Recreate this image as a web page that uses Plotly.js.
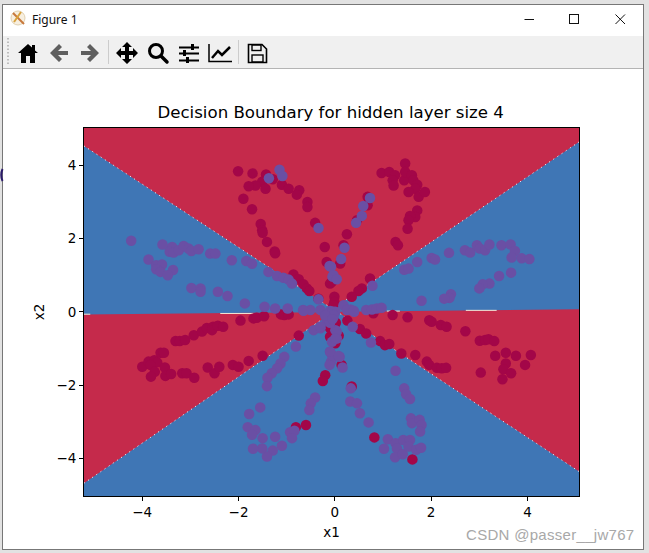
<!DOCTYPE html>
<html>
<head>
<meta charset="utf-8">
<script src="https://cdn.plot.ly/plotly-3.0.1.min.js"></script>
<style>
html,body{margin:0;padding:0;background:#fff;width:649px;height:553px;overflow:hidden;}
#shadow{position:absolute;left:0;top:0;width:649px;height:553px;background:#e2e2e2;}
#win{position:absolute;left:2px;top:4px;width:640px;height:544px;background:#fff;border:1px solid #777;}
#tb{position:absolute;left:3px;top:36px;width:640px;height:32px;background:#f0f0f0;border-bottom:1px solid #b4b4b4;}
#ttl{position:absolute;left:32px;top:11px;font:12px "Noto Sans",sans-serif;color:#111;}
#plot{position:absolute;left:0;top:0;width:649px;height:553px;}
#wm{position:absolute;left:466px;top:526px;font:15px "Liberation Sans",sans-serif;color:#a8a8a8;letter-spacing:.3px;white-space:nowrap;}
svg.i{position:absolute;overflow:visible;}
</style>
</head>
<body>
<div id="shadow"></div>
<div id="win"></div>
<div id="tb"></div>
<div id="ttl">Figure 1</div>
<svg class="i" style="left:0;top:0" width="649" height="70">
  <!-- app icon -->
  <circle cx="18" cy="18" r="7" fill="#f7efe0" stroke="#e0d0b0"/>
  <path d="M13 13 L24 24" stroke="#c8783c" stroke-width="2"/>
  <path d="M21 12 L14 22" stroke="#d9a23c" stroke-width="2"/>
  <!-- window buttons -->
  <path d="M524.5 19.5 H534" stroke="#111" stroke-width="1"/>
  <rect x="569.5" y="14.5" width="9" height="9" fill="none" stroke="#111" stroke-width="1"/>
  <path d="M615.5 14.5 L625 24 M625 14.5 L615.5 24" stroke="#111" stroke-width="1"/>
  <!-- grip -->
  <path d="M8 38 V66" stroke="#aaa" stroke-width="1.5" stroke-dasharray="1.5,2"/>
  <!-- home -->
  <path d="M28 44 L32 47.5 V45 H35 V50.5 L38 53 H35 V63 H30 V56 H26 V63 H21 V53 H18 Z" fill="#000"/>
  <!-- back -->
  <path d="M59 44 L50 53 L59 62 L62 59 L58 55 H68 V51 H58 L62 47 Z" fill="#5f5f5f"/>
  <!-- forward -->
  <path d="M90 44 L99 53 L90 62 L87 59 L91 55 H81 V51 H91 L87 47 Z" fill="#5f5f5f"/>
  <path d="M108.5 40 V64" stroke="#ccc"/>
  <!-- move -->
  <path d="M127 42 L132 47 H129 V51 H133 V48 L138 53 L133 58 V55 H129 V59 H132 L127 64 L122 59 H125 V55 H121 V58 L116 53 L121 48 V51 H125 V47 H122 Z" fill="#000"/>
  <!-- zoom -->
  <circle cx="156" cy="51" r="6.5" fill="none" stroke="#000" stroke-width="3"/>
  <path d="M161 56 L167 62" stroke="#000" stroke-width="3.5" stroke-linecap="round"/>
  <!-- sliders -->
  <path d="M179 47.5 H199 M179 53.5 H199 M179 60.5 H199" stroke="#000" stroke-width="2"/>
  <rect x="191" y="44" width="3" height="6" fill="#000"/><rect x="183" y="50" width="3" height="6" fill="#000"/><rect x="186" y="57" width="3" height="6" fill="#000"/>
  <!-- chart -->
  <path d="M209 44 V61.5 H232" stroke="#000" stroke-width="1.5" fill="none"/>
  <path d="M212 58 L218 51 L222 55 L230 47" stroke="#000" stroke-width="2.5" fill="none"/>
  <path d="M238.5 40 V64" stroke="#ccc"/>
  <!-- save -->
  <path d="M248.5 44.5 H262 L266.5 49 V62.5 H248.5 Z" fill="none" stroke="#000" stroke-width="1.6"/>
  <rect x="252" y="45" width="9" height="5.5" fill="none" stroke="#000" stroke-width="1.4"/>
  <rect x="252" y="55" width="11" height="7" fill="none" stroke="#000" stroke-width="1.4"/>
  <!-- clipped glyph at window edge -->
  <path d="M2.5 169 Q0 175 2.5 181" stroke="#2a1a6a" stroke-width="2" fill="none"/>
</svg>
<div id="plot"></div>
<div id="wm">CSDN @passer__jw767</div>
<script>
// Red class samples
const redX = [-2.01,-1.71,-1.43,-1.29,-1.51,-1.65,-1.79,-1.44,-1.10,-0.96,-0.74,-0.79,-1.90,-1.72,-0.57,-0.57,-1.54,-1.51,-1.50,-1.41,-1.25,-1.24,-0.41,-0.21,-0.17,-0.06,-0.86,-0.75,-0.65,-0.58,-0.53,-0.34,
1.46,0.97,1.13,1.25,1.20,1.22,1.44,1.46,1.60,1.63,1.71,1.67,1.53,1.74,1.87,1.71,1.67,1.56,1.53,1.51,1.26,1.31,0.68,0.68,0.46,0.25,0.18,0.11,0.73,0.56,0.49,0.35,-0.01,-0.01,
-4.00,-3.87,-3.75,-3.69,-3.83,-3.74,-3.82,-3.53,-3.52,-3.40,-3.17,-3.08,-2.92,-3.62,-3.55,-3.31,-3.22,-3.11,-2.93,-2.76,-2.66,-2.53,-2.55,-2.43,-2.32,-1.96,-1.69,-1.62,-1.47,-1.12,-1.05,-0.96,-2.64,-2.50,-2.40,-2.12,-2.00,-1.79,-1.50,-0.75,-0.20,-0.25,-0.81,-0.60,
1.20,1.51,0.80,0.26,0.52,0.65,0.94,1.04,1.13,1.38,1.67,1.91,1.96,2.12,2.22,2.31,1.96,2.01,2.20,2.32,2.71,3.01,3.12,3.19,3.31,3.33,3.55,3.76,4.07,3.95,3.55,3.50,3.66,3.48,3.03,0.35,0.14,0.01,0.82,1.61,
-0.10,-0.03,-0.10,-0.10,0.08,0.02];
const redY = [3.84,3.78,3.75,3.62,3.55,3.45,3.43,3.36,3.47,3.36,3.32,3.20,3.09,2.80,3.00,2.86,2.40,2.23,2.16,1.91,1.65,1.60,2.43,1.77,1.36,0.82,1.02,0.89,0.75,0.64,0.57,0.36,
4.05,3.79,3.82,3.73,3.59,3.45,3.59,3.82,3.73,3.59,3.47,3.36,3.27,3.14,3.27,2.77,2.59,2.62,2.50,2.27,1.91,1.82,3.14,2.91,2.50,2.12,1.82,1.32,0.91,0.64,0.57,0.41,0.41,0.27,
-1.50,-1.36,-1.32,-1.38,-1.45,-1.64,-1.77,-1.52,-1.75,-1.70,-1.68,-1.68,-1.80,-1.12,-1.12,-0.80,-0.80,-0.77,-0.64,-0.54,-0.44,-0.41,-0.50,-0.38,-0.41,-0.24,-0.18,-0.16,-0.12,-0.07,-0.09,-0.07,-1.52,-1.68,-1.50,-1.45,-1.50,-1.34,-1.20,-0.65,-1.73,-1.89,-3.15,-3.09,
-0.09,-0.15,-0.04,-0.24,-0.47,-0.59,-0.80,-0.91,-0.88,-1.14,-1.18,-1.36,-1.45,-1.53,-1.54,-1.53,-0.23,-0.27,-0.36,-0.41,-0.53,-0.79,-0.77,-0.75,-0.80,-1.20,-1.12,-1.20,-1.18,-1.45,-1.41,-1.57,-1.68,-1.84,-1.66,-2.04,-1.45,-0.86,-3.43,-4.03,
0.77,0.18,-0.68,-0.45,-0.65,-0.30];

// Blue class samples
const blueX = [-1.37,-1.15,-1.09,-0.34,-0.11,-0.05,-0.34,-4.23,-3.58,-3.38,-3.43,-3.35,-3.24,-3.14,-3.04,-2.98,-2.83,-2.59,-2.48,-2.14,-1.84,-1.72,-1.38,-1.20,-1.07,-0.96,-0.89,-3.87,-3.71,-3.59,-3.71,-3.62,-3.36,-3.47,-2.98,-2.79,-2.79,-2.43,-2.23,-1.87,-1.46,-1.24,-0.98,-0.66,-0.51,-0.30,-0.10,
0.73,0.59,0.56,0.44,0.20,0.13,-0.08,-0.03,0.04,0.78,0.18,-0.03,0.32,0.40,0.65,0.77,0.87,0.97,1.44,1.53,1.71,2.01,2.08,2.37,2.70,2.81,2.95,3.01,3.12,3.21,3.46,3.65,3.74,3.67,3.88,4.04,3.66,3.41,3.21,3.07,3.00,2.41,2.38,2.27,1.80,
-0.81,-1.05,-1.13,-1.20,-1.31,-1.40,-1.41,-0.41,-0.50,-0.53,-1.55,-1.78,-1.81,-1.65,-1.72,-1.50,-1.24,-0.93,-0.84,-0.89,-1.10,-1.29,-1.41,-1.51,-1.70,-0.10,-0.08,-0.11,-0.44,-0.30,-0.06,
0.01,-0.03,0.01,0.04,0.37,0.75,0.10,0.16,1.26,0.33,0.32,0.46,0.52,0.70,1.44,1.48,1.56,1.58,1.60,1.76,1.80,1.77,1.10,1.26,1.42,1.56,1.02,1.29,1.25,1.41,1.53,1.69,1.79,-0.06,
-0.65,-0.06,-0.03,0.25,0.39,-0.17,-0.30,0.04,0.01,-0.10,0.08,-0.10,-0.20,-0.05];
const blueY = [3.65,3.88,3.71,2.29,1.25,0.96,0.34,1.94,1.84,1.77,1.64,1.62,1.68,1.80,1.73,1.66,1.71,1.59,1.59,1.41,1.39,1.31,1.09,0.98,0.93,0.88,0.77,1.43,1.27,1.29,1.16,1.09,1.14,1.00,0.65,0.64,0.55,0.55,0.43,0.23,0.14,0.09,0.09,0.05,0.05,0.05,0.02,
3.11,2.89,2.62,2.43,1.75,1.44,1.23,1.00,0.89,0.71,0.18,0.00,0.06,0.00,0.05,0.06,0.09,0.11,1.15,1.18,1.36,1.47,1.43,1.61,1.68,1.62,1.82,1.73,1.68,1.84,1.82,1.84,1.66,1.48,1.46,1.44,1.07,0.98,0.77,0.75,0.64,0.48,0.38,0.36,0.30,
-0.95,-1.23,-1.41,-1.54,-1.68,-1.80,-2.03,-2.34,-2.50,-2.68,-2.61,-2.79,-3.15,-3.23,-3.36,-3.45,-3.41,-3.29,-3.25,-3.45,-3.66,-3.79,-3.95,-3.73,-3.74,-1.09,-1.36,-1.45,-0.50,-0.45,-0.82,
0.00,-0.14,-0.50,-0.73,-0.41,-0.84,-1.23,-1.52,-1.61,-2.09,-2.45,-2.50,-2.77,-3.02,-2.09,-2.25,-2.38,-2.91,-3.04,-2.95,-3.09,-3.27,-3.48,-3.59,-3.50,-3.50,-3.74,-3.73,-3.97,-3.89,-3.68,-3.77,-3.71,-1.18,
0.03,0.00,-0.09,0.05,0.03,-0.23,-0.41,-0.54,-0.73,-1.09,-1.21,-0.30,-0.10,-0.20];

// Decision regions: corners of each red wedge
const topRegionX = [-5.21,-0.05,5.07,5.07,-5.21];
const topRegionY = [4.53,0.08,4.64,5.02,5.02];
const leftRegionX = [-5.21,-0.05,-5.21];
const leftRegionY = [-0.07,-0.01,-4.68];
const rightRegionX = [5.07,0.05,5.07];
const rightRegionY = [0.07,0.00,-4.36];
// Light speckle along the contour edges
const edgeX = [-5.21,-0.05,null,5.07,-0.05,null,-5.21,-0.05,null,5.07,0.05];
const edgeY = [4.53,0.08,null,4.64,0.08,null,-4.68,-0.01,null,-4.36,0.00];
const seamX = [-5.21,-5.08,null,-2.38,-1.69,null,1.08,1.35,null,2.72,3.36];
const seamY = [-0.065,-0.065,null,-0.045,-0.045,null,0.02,0.02,null,0.04,0.04];

const xTicks = [-4,-2,0,2,4];
const yTicks = [-4,-2,0,2,4];
const RED = '#c52a4b', BLUE = '#3f76b5';

function region(x,y){return {x,y,type:'scatter',mode:'lines',fill:'toself',fillcolor:RED,line:{width:0,color:RED},hoverinfo:'skip'};}
const traces = [
  region(topRegionX,topRegionY),
  region(leftRegionX,leftRegionY),
  region(rightRegionX,rightRegionY),
  {x:edgeX,y:edgeY,type:'scatter',mode:'lines',line:{color:'#fff',width:1,dash:'1px,4px'},hoverinfo:'skip'},
  {x:seamX,y:seamY,type:'scatter',mode:'lines',line:{color:'#f4ead8',width:1},hoverinfo:'skip'},
  {x:redX,y:redY,type:'scatter',mode:'markers',marker:{size:10.5,color:'#a30648',line:{width:0}},hoverinfo:'skip'},
  {x:blueX,y:blueY,type:'scatter',mode:'markers',marker:{size:10.5,color:'#6a4fa4',line:{width:0}},hoverinfo:'skip'}
];
const axisCommon = {showgrid:false,zeroline:false,showline:true,mirror:true,linecolor:'#000',linewidth:1,ticks:'outside',ticklen:4,tickwidth:1,tickcolor:'#000',tickfont:{family:'DejaVu Sans',size:13.5,color:'#000'}};
const layout = {
  width:649,height:553,showlegend:false,hovermode:false,
  paper_bgcolor:'rgba(0,0,0,0)',plot_bgcolor:BLUE,
  margin:{l:84,r:70,t:128,b:57,pad:0},
  font:{family:'DejaVu Sans',color:'#000'},
  title:{text:'Decision Boundary for hidden layer size 4',font:{family:'DejaVu Sans',size:16.6,color:'#000'},x:0.5095,xanchor:'center',y:0.797,yanchor:'middle'},
  xaxis:Object.assign({},axisCommon,{range:[-5.21,5.07],tickvals:xTicks,ticktext:xTicks.map(v=>v<0?'\u2212'+(-v):String(v)),title:{text:'x1',font:{family:'DejaVu Sans',size:13.5,color:'#000'},standoff:8}}),
  yaxis:Object.assign({},axisCommon,{range:[-5.03,5.02],tickvals:yTicks,ticktext:yTicks.map(v=>v<0?'\u2212'+(-v):String(v)),title:{text:'x2',font:{family:'DejaVu Sans',size:13.5,color:'#000'},standoff:8}})
};
Plotly.newPlot('plot',traces,layout,{displayModeBar:false,staticPlot:true});
</script>
</body>
</html>
